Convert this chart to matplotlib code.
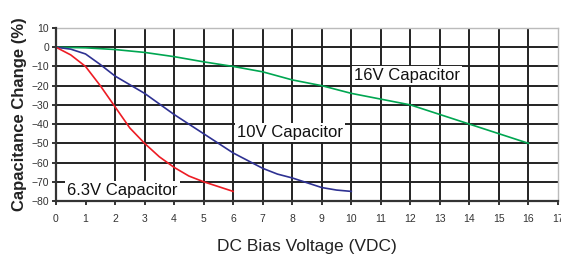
import matplotlib
matplotlib.use("Agg")
import matplotlib.pyplot as plt

# =====================================================================
# DATA
# =====================================================================

v_63 = [0, 0.5, 1, 1.5, 2, 2.5, 3, 3.5, 4, 4.5, 5, 5.5, 6]
c_63 = [0, -4, -10, -20, -31, -42, -50, -57, -62.5, -67, -70, -72.5, -75]

v_10 = [0, 0.5, 1, 1.5, 2, 2.5, 3, 3.5, 4, 4.5, 5, 5.5, 6,
        6.5, 7, 7.5, 8, 8.5, 9, 9.5, 10]
c_10 = [0, -1, -3.5, -9, -15, -19.5, -24, -29.5, -35, -40, -45, -50, -55,
        -59, -63, -66, -68, -70.5, -73, -74.3, -75]

v_16 = [0, 1, 2, 3, 4, 5, 6, 7, 8, 9, 10, 11, 12, 13, 14, 15, 16]
c_16 = [0, -0.3, -1.2, -2.7, -4.9, -7.6, -10, -12.8, -17, -20, -24,
        -27, -30, -35, -40, -45, -50]

series_labels = ["6.3V Capacitor", "10V Capacitor", "16V Capacitor"]
x_ticks = list(range(0, 18))
y_ticks = list(range(-80, 11, 10))

# =====================================================================
# STYLE
# =====================================================================

plt.rcParams["font.family"] = ["Liberation Sans", "DejaVu Sans"]

RED = "#ed1c24"
BLUE = "#2e3192"
GREEN = "#00a651"
GRID = "#222222"

fig = plt.figure(figsize=(5.61, 2.56), dpi=100)
ax = fig.add_axes([0.0998, 0.2148, 0.8949, 0.6758])

ax.set_xlim(0, 17)
ax.set_ylim(-80, 10)

# grid: horizontal lines from 0 to -70, vertical lines from 2 to 16
for y in y_ticks[1:-1]:
    ax.axhline(y, color=GRID, lw=1.4, zorder=1)
for x in x_ticks[2:-1]:
    ax.axvline(x, color=GRID, lw=1.4, zorder=1)

# =====================================================================
# CURVES
# =====================================================================

ax.plot(v_16, c_16, color=GREEN, lw=1.2, zorder=3)
ax.plot(v_10, c_10, color=BLUE, lw=1.2, zorder=3)
ax.plot(v_63, c_63, color=RED, lw=1.2, zorder=3)

box = dict(facecolor="white", edgecolor="none", pad=1.5)

ax.text(2.26, -74.6, series_labels[0], fontsize=12, ha="center",
        va="center", color="#111111", bbox=box, zorder=2)
ax.text(7.92, -44.2, series_labels[1], fontsize=12, ha="center",
        va="center", color="#111111", bbox=box, zorder=2)
ax.text(11.89, -14.6, series_labels[2], fontsize=12, ha="center",
        va="center", color="#111111", bbox=box, zorder=2)

# =====================================================================
# AXES
# =====================================================================

for side in ["top", "right"]:
    ax.spines[side].set_color("#bbbbbb")
    ax.spines[side].set_linewidth(1.0)
for side in ["left", "bottom"]:
    ax.spines[side].set_color("#333333")
    ax.spines[side].set_linewidth(1.6)
    ax.spines[side].set_zorder(4)

ax.set_xticks(x_ticks)
ax.set_yticks(y_ticks)
ax.tick_params(axis="both", direction="out", length=3, width=1.4,
               color="#333333", labelsize=7.5, labelcolor="#333333")
ax.tick_params(axis="x", pad=6)
ax.tick_params(axis="y", pad=2)

ax.set_xlabel("DC Bias Voltage (VDC)", fontsize=12.5, color="#222222",
              labelpad=11)
ax.set_ylabel("Capacitance Change (%)", fontsize=12, fontweight="bold",
              color="#222222", labelpad=3)

plt.savefig("out.png", dpi=100)
plt.close()
